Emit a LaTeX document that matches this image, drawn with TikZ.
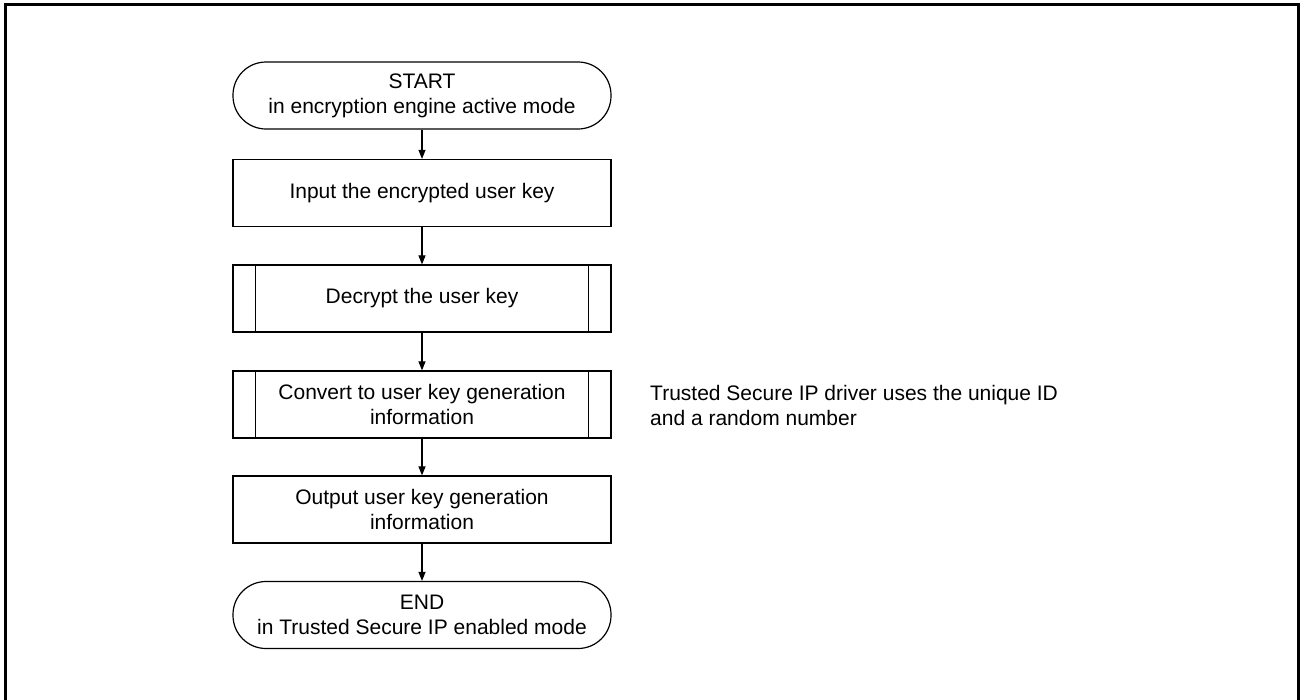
\documentclass[tikz,border=0pt]{standalone}
\usepackage{fontspec}
\setmainfont{Liberation Sans}
\usetikzlibrary{arrows.meta}
\begin{document}
\begin{tikzpicture}[x=1pt,y=-1pt,
  every node/.style={font=\fontsize{21}{25}\selectfont},
  box/.style={draw,line width=1.2pt,minimum width=378pt,minimum height=67pt,align=center,inner sep=0pt},
  term/.style={box,rounded corners=33pt},
  sub/.style={box},
  conn/.style={line width=1.1pt,-{Triangle[length=9pt,width=7pt]}}]
\useasboundingbox (0,0) rectangle (1301,699);
\draw[line width=2.2pt] (5.5,710) -- (5.5,4.5) -- (1298.5,4.5) -- (1298.5,710);
\node[term] (start) at (422,95.5) {START\\in encryption engine active mode};
\node[box] (input) at (422,193) {Input the encrypted user key};
\node[sub] (dec) at (422,298.5) {Decrypt the user key};
\node[sub] (conv) at (422,404.5) {Convert to user key generation\\information};
\node[box] (out) at (422,509.5) {Output user key generation\\information};
\node[term] (end) at (422,615) {END\\in Trusted Secure IP enabled mode};
\foreach \n in {dec,conv}{
  \draw[line width=1.2pt] ([xshift=23pt]\n.north west) -- ([xshift=23pt]\n.south west);
  \draw[line width=1.2pt] ([xshift=-23pt]\n.north east) -- ([xshift=-23pt]\n.south east);
}
\node[anchor=west,align=left,inner sep=0pt] (note) at (650,405) {Trusted Secure IP driver uses the unique ID\\and a random number};
\draw[conn] (start) -- (input);
\draw[conn] (input) -- (dec);
\draw[conn] (dec) -- (conv);
\draw[conn] (conv) -- (out);
\draw[conn] (out) -- (end);
\end{tikzpicture}
\end{document}
